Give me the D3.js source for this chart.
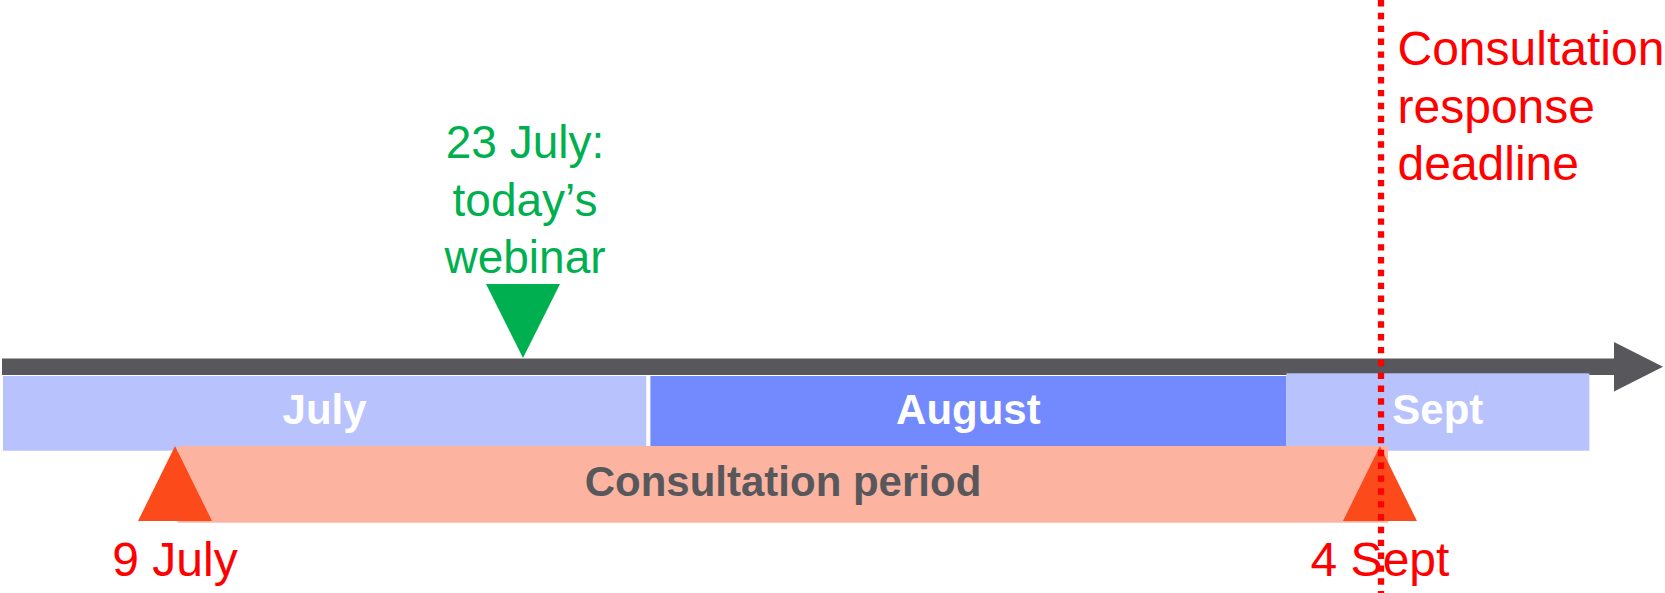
<!DOCTYPE html>
<html>
<head>
<meta charset="utf-8">
<script src="https://cdn.jsdelivr.net/npm/d3@7"></script>
<style>
  html, body { margin: 0; padding: 0; background: #ffffff; }
  svg { display: block; }
  text { font-family: "Liberation Sans", Arial, sans-serif; }
</style>
</head>
<body>
<svg id="chart" width="1665" height="593"></svg>
<script>
// ---- Data (timeline position units ≈ days from 1 July, as drawn) ----
const months      = ["July", "August", "Sept"];
const monthStarts = [0, 31.2, 61.85];
const monthEnds   = [31.0, 61.85, 76.45];

const periodLabel = "Consultation period";
const periodRange = [8.43, 66.75];

const milestoneLabels = ["9 July", "4 Sept"];
const milestoneDates  = [8.29, 66.36];

const webinarLines = ["23 July:", "today\u2019s", "webinar"];
const webinarDate  = 25.06;

const deadlineLines = ["Consultation", "response", "deadline"];
const deadlineDate  = 66.41;

const axisDomain = [0, 80];

// ---- Styles ----
const W = 1665, H = 593;
const colBar = "#58575c";
const monthFill = ["#b8c3fe", "#7389fe", "#b8c3fe"];
const colPeriod = "#fcb4a1";
const colMilestone = "#fc4a1a";
const colGreen = "#00b050";
const colRed = "#ff0000";

const svg = d3.select("#chart");
const x = d3.scaleLinear().domain(axisDomain).range([3, 1663]);

// Axis bar with arrow head
const barTop = 358.5, barBot = 375, headLen = 49, headTop = 342, headBot = 391.5;
const tipX = x(axisDomain[1]);
svg.append("rect")
  .attr("x", x(axisDomain[0]) - 1).attr("y", barTop)
  .attr("width", tipX - headLen - x(axisDomain[0]) + 1).attr("height", barBot - barTop)
  .attr("fill", colBar);
svg.append("path")
  .attr("d", d3.line()([[tipX - headLen, headTop], [tipX, (headTop + headBot) / 2], [tipX - headLen, headBot]]) + "Z")
  .attr("fill", colBar);

// Month bands
const monthData = months.map((m, i) => ({ name: m, start: monthStarts[i], end: monthEnds[i], fill: monthFill[i] }));
const bandTopArr = [376, 376, 373.3];
svg.selectAll("rect.month").data(monthData).join("rect")
  .attr("class", "month")
  .attr("x", d => x(d.start))
  .attr("y", (d, i) => bandTopArr[i])
  .attr("width", d => x(d.end) - x(d.start))
  .attr("height", (d, i) => 450.7 - bandTopArr[i])
  .attr("fill", d => d.fill);
svg.selectAll("text.month").data(monthData).join("text")
  .attr("class", "month")
  .attr("x", d => (x(d.start) + x(d.end)) / 2)
  .attr("y", 424)
  .attr("text-anchor", "middle")
  .attr("font-size", 42).attr("font-weight", "bold")
  .attr("fill", "#ffffff")
  .text(d => d.name);

// Consultation period band
svg.append("rect")
  .attr("x", x(periodRange[0])).attr("y", 446)
  .attr("width", x(periodRange[1]) - x(periodRange[0])).attr("height", 76.7)
  .attr("fill", colPeriod);
svg.append("text")
  .attr("x", (x(periodRange[0]) + x(periodRange[1])) / 2).attr("y", 496)
  .attr("text-anchor", "middle")
  .attr("font-size", 42).attr("font-weight", "bold")
  .attr("fill", "#58585c")
  .text(periodLabel);

// Milestone triangles + labels
const msData = milestoneLabels.map((l, i) => ({ label: l, date: milestoneDates[i] }));
const triHalf = 37;
svg.selectAll("path.ms").data(msData).join("path")
  .attr("class", "ms")
  .attr("d", d => { const cx = x(d.date); return d3.line()([[cx, 446], [cx + triHalf, 521], [cx - triHalf, 521]]) + "Z"; })
  .attr("fill", colMilestone);
svg.selectAll("text.ms").data(msData).join("text")
  .attr("class", "ms")
  .attr("x", d => x(d.date))
  .attr("y", 576)
  .attr("text-anchor", "middle")
  .attr("font-size", 48)
  .attr("fill", colRed)
  .text(d => d.label);

// Webinar marker
const wx = x(webinarDate);
svg.append("path")
  .attr("d", d3.line()([[wx - 37, 284], [wx + 37, 284], [wx, 358]]) + "Z")
  .attr("fill", colGreen);
svg.selectAll("text.web").data(webinarLines).join("text")
  .attr("class", "web")
  .attr("x", wx + 2)
  .attr("y", (d, i) => 158 + i * 57.5)
  .attr("text-anchor", "middle")
  .attr("font-size", 46)
  .attr("fill", colGreen)
  .text(d => d);

// Deadline text
svg.selectAll("text.dl").data(deadlineLines).join("text")
  .attr("class", "dl")
  .attr("x", x(deadlineDate) + 16.5)
  .attr("y", (d, i) => 65 + i * 57.5)
  .attr("font-size", 48)
  .attr("fill", colRed)
  .text(d => d);

// Deadline dotted line (on top)
svg.append("line")
  .attr("x1", x(deadlineDate)).attr("x2", x(deadlineDate))
  .attr("y1", 0).attr("y2", H)
  .attr("stroke", colRed)
  .attr("stroke-width", 6.3)
  .attr("stroke-dasharray", "6.4 6.45");
</script>
</body>
</html>
